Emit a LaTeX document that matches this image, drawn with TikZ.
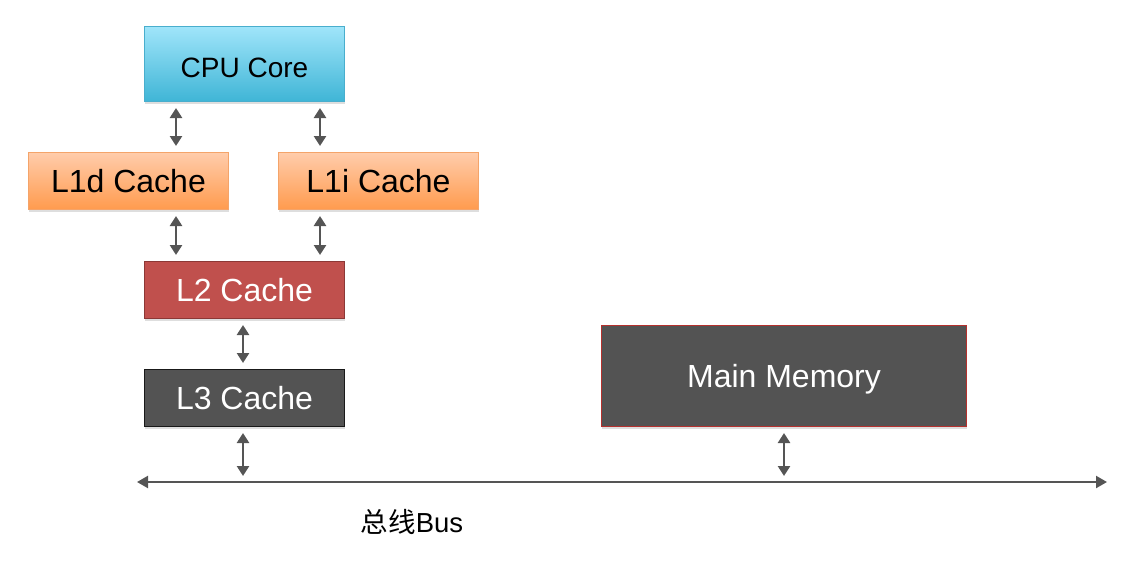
\documentclass[tikz,border=0pt]{standalone}
\usepackage{fontspec}
\setmainfont{Liberation Sans}
\newfontfamily\cjk{Noto Sans CJK SC}
\usetikzlibrary{arrows.meta,shadows}
\definecolor{cpuTop}{HTML}{A0E5FA}
\definecolor{cpuBot}{HTML}{3FB5D6}
\definecolor{cpuLine}{HTML}{49AECD}
\definecolor{lOneTop}{HTML}{FFCCAB}
\definecolor{lOneBot}{HTML}{FF9B4E}
\definecolor{lOneLine}{HTML}{F4A46A}
\definecolor{lTwoFill}{HTML}{C0504D}
\definecolor{lTwoLine}{HTML}{8C3836}
\definecolor{darkFill}{HTML}{535353}
\definecolor{mmLine}{HTML}{B5302D}
\definecolor{arrGray}{HTML}{555555}
\tikzset{
  box/.style={draw, line width=1pt, anchor=north west, inner sep=0pt,
    minimum width=200pt, minimum height=57pt,
    font=\fontsize{32}{36}\selectfont,
    drop shadow={shadow xshift=0pt, shadow yshift=-2.5pt, opacity=0.13, fill=black}},
  cpubox/.style={box, minimum height=75pt, draw=cpuLine, top color=cpuTop, bottom color=cpuBot,
    font=\fontsize{28}{32}\selectfont, text height=26pt, text depth=0pt},
  lonebox/.style={box, draw=lOneLine, top color=lOneTop, bottom color=lOneBot},
  ltwobox/.style={box, draw=lTwoLine, fill=lTwoFill, text=white},
  lthreebox/.style={box, draw=black!90, fill=darkFill, text=white},
  mmbox/.style={box, minimum width=365pt, minimum height=101pt, draw=mmLine, fill=darkFill, text=white,
    text height=22pt, text depth=0pt},
  arr/.style={draw=arrGray, line width=2.5pt, {Triangle[length=10pt,width=12pt]}-{Triangle[length=10pt,width=12pt]},
    shorten <=6pt, shorten >=6pt},
  busline/.style={draw=arrGray, line width=2.2pt, {Triangle[length=11pt,width=12pt]}-{Triangle[length=11pt,width=12pt]}}
}
\begin{document}
\begin{tikzpicture}[x=1pt,y=-1pt]
\useasboundingbox (0,0) rectangle (1134,584);
\node[cpubox] (cpu) at (144,26) {CPU Core};
\node[lonebox] (l1d) at (28,152) {L1d Cache};
\node[lonebox] (l1i) at (278,152) {L1i Cache};
\node[ltwobox] (l2) at (144,261) {L2 Cache};
\node[lthreebox] (l3) at (144,369) {L3 Cache};
\node[mmbox] (mm) at (601,325) {Main Memory};
\coordinate (ax1) at (176,0);
\coordinate (ax2) at (320,0);
\coordinate (ax3) at (243,0);
\coordinate (busL) at (137,482);
\coordinate (busR) at (1107,482);
\draw[arr] (cpu.south -| ax1) -- (l1d.north -| ax1);
\draw[arr] (cpu.south -| ax2) -- (l1i.north -| ax2);
\draw[arr] (l1d.south -| ax1) -- (l2.north -| ax1);
\draw[arr] (l1i.south -| ax2) -- (l2.north -| ax2);
\draw[arr] (l2.south -| ax3) -- (l3.north -| ax3);
\draw[arr] (l3.south -| ax3) -- (busL -| ax3);
\draw[arr] (mm.south) -- (busL -| mm.south);
\draw[busline] (busL) -- (busR);
\node[font=\fontsize{27.5}{32}\selectfont, inner sep=0pt] (buslabel) at (412,522) {{\cjk 总线}Bus};
\end{tikzpicture}
\end{document}
